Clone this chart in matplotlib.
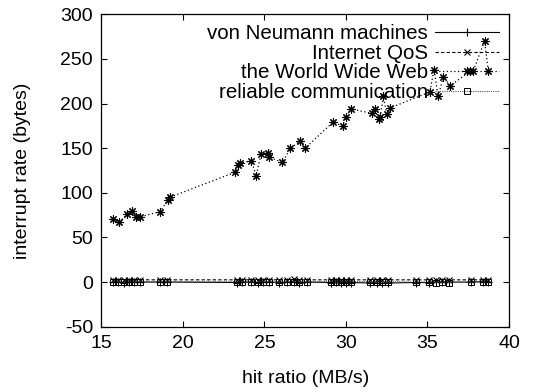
import matplotlib
matplotlib.use("Agg")
import matplotlib.pyplot as plt

plt.rcParams['font.family'] = ['Liberation Sans', 'DejaVu Sans']
plt.rcParams['axes.unicode_minus'] = False

# the World Wide Web
x_www = [15.7, 16.1, 16.6, 16.9, 17.1, 17.4, 18.6, 19.1, 19.2, 23.2, 23.4, 23.5,
         24.2, 24.5, 24.8, 25.2, 25.3, 26.1, 26.6, 27.2, 27.5, 29.2, 29.8, 30.0,
         30.3, 31.6, 31.8, 32.0, 32.1, 32.3, 32.5, 32.7, 35.15, 35.4, 35.66,
         35.97, 36.4, 37.6, 37.8, 38.5, 38.73]
y_www = [71, 67, 76, 80, 73, 73, 79, 92, 95, 123, 131, 133,
         136, 119, 144, 145, 140, 134, 150, 158, 150, 179, 175, 185,
         194, 189, 194, 183, 185, 208, 188, 195, 213, 238, 208,
         230, 220, 236, 236, 270, 237]

# the three series near zero
x_low = [15.7, 16.0, 16.4, 16.7, 17.0, 17.4, 18.6, 19.0, 23.3, 23.6, 24.2, 24.6,
         24.9, 25.3, 25.9, 26.4, 26.8, 27.1, 27.6, 29.1, 29.4, 29.7, 30.0, 30.3,
         31.5, 31.9, 32.2, 32.6, 34.3, 35.1, 35.5, 35.9, 36.3, 37.7, 38.4, 38.7]
y_neumann = [0, 0, -0.5, 0, 0, 0, 0, 0, -0.5, 0, 0, -0.5,
             0, 0, -0.5, 0, 0, -0.5, 0, -0.5, 0, -0.5, -0.5, -0.5,
             -1, -1, -1.5, -1, -0.5, -0.5, 0, 0, 0, 0, 0.5, 0.5]
y_qos = [2.5, 2.5, 2.5, 2.5, 2, 2.5, 2.5, 2.5, 2.5, 2.5, 2.5, 2,
         2.5, 2.5, 2.5, 2.5, 3, 2.5, 2.5, 2.5, 2.5, 2.5, 2.5, 2.5,
         2.5, 2.5, 2.5, 2.5, 2.5, 2.5, 2.5, 2.5, 2.5, 2.5, 2.5, 2.5]
y_reliable = [0.5, 0.5, 0, 0.5, 0.5, 0.5, 0.5, 0.5, 0.5, 0.5, 0, 0.5,
              0.5, 0.5, 0, 0.5, 0.5, 0.5, 0.5, 0.5, 0, 0.5, 0.5, 0.5,
              0.5, 0, 0.5, 0.5, 0, 0, -0.5, 0, -0.5, 0, 0, 0]

labels = ["von Neumann machines", "Internet QoS", "the World Wide Web", "reliable communication"]

fig = plt.figure(figsize=(5.36, 3.92), dpi=100)
ax = fig.add_axes([0.189, 0.1666, 0.9496 - 0.189, 0.9635 - 0.1666])

ax.plot(x_low, y_neumann, color="black", lw=0.8, ls="-", marker="+", ms=6, mew=0.8, label=labels[0])
ax.plot(x_low, y_qos, color="black", lw=0.8, ls=(0, (3, 2)), marker="x", ms=5, mew=0.8, label=labels[1])
ax.plot(x_www, y_www, color="black", lw=0.9, ls=(0, (1, 2)), marker=(8, 2, 0), ms=6, mew=0.8, label=labels[2])
ax.plot(x_low, y_reliable, color="#555555", lw=0.8, ls=(0, (1, 1)), marker="s", ms=4,
        mfc="none", mec="black", mew=0.7, label=labels[3])

ax.set_xlim(15, 40)
ax.set_ylim(-50, 300)
ax.set_xticks(range(15, 41, 5))
ax.set_yticks(range(-50, 301, 50))
ax.tick_params(direction="in", top=True, right=True, length=4, width=0.8, labelsize=14, pad=6)
for s in ax.spines.values():
    s.set_linewidth(0.9)

ax.set_xlabel("hit ratio (MB/s)", fontsize=14, labelpad=13)
ax.set_ylabel("interrupt rate (bytes)", fontsize=14, labelpad=21)

ax.legend(loc="upper right", bbox_to_anchor=(0.98, 0.974), frameon=False, markerfirst=False,
          alignment="right", fontsize=14.8, handlelength=3.1, handletextpad=0.35,
          labelspacing=0.02, borderpad=0.1, borderaxespad=0.0, numpoints=1)

fig.savefig("out.png", dpi=100)
